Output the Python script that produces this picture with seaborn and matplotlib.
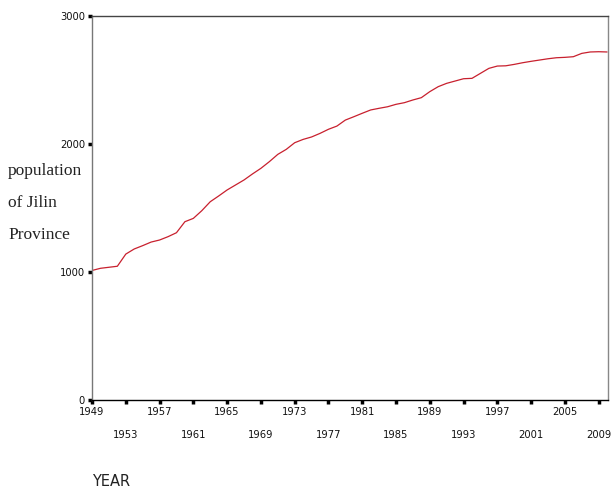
import matplotlib
matplotlib.use("Agg")
import matplotlib.pyplot as plt
import numpy as np
import pandas as pd
import seaborn as sns

# population of Jilin Province (10k persons)
years = list(range(1949, 2011))
population = [
    1012, 1029, 1037, 1045, 1140, 1180, 1206, 1234, 1250, 1276,
    1307, 1393, 1419, 1479, 1549, 1594, 1641, 1680, 1719, 1766,
    1810, 1862, 1919, 1958, 2010, 2036, 2055, 2083, 2115, 2140,
    2187, 2213, 2240, 2266, 2279, 2291, 2310, 2323, 2344, 2362,
    2409, 2448, 2474, 2492, 2510, 2513, 2552, 2591, 2609, 2611,
    2622, 2635, 2646, 2656, 2666, 2674, 2677, 2682, 2708, 2719,
    2721, 2719,
]
tick_years = list(range(1949, 2010, 4))
y_ticks = [0, 1000, 2000, 3000]

df = pd.DataFrame({"year": years, "population": population})

sns.set_style("white")
plt.rcParams["font.family"] = ["DejaVu Sans"]

fig = plt.figure(figsize=(6.11, 4.88), dpi=100)
ax = fig.add_axes([0.1506, 0.1803, 0.8444, 0.7869])

sns.lineplot(data=df, x="year", y="population", ax=ax, color="#c8202e", linewidth=0.9)

ax.set_xlim(1949, 2010.1)
ax.set_ylim(0, 3000)

ax.set_xticks(tick_years)
ax.set_xticklabels([str(y) if i % 2 == 0 else "\n" + str(y) for i, y in enumerate(tick_years)],
                   fontsize=7.2, linespacing=2.6, color="#111111")
ax.set_yticks(y_ticks)
ax.set_yticklabels([str(v) for v in y_ticks], fontsize=7.2, color="#111111")
ax.tick_params(axis="both", which="major", bottom=True, left=True, direction="out",
               length=3, width=2.5, color="black", pad=2)

for name, sp in ax.spines.items():
    sp.set_visible(True)
    sp.set_linewidth(1)
ax.spines["left"].set_color("#777777")
ax.spines["right"].set_color("#888888")
ax.spines["top"].set_color("#444444")
ax.spines["bottom"].set_color("black")

ax.set_xlabel("")
ax.set_ylabel("")

fig.text(8 / 611, 1 - 203 / 488, "population\nof Jilin\nProvince", ha="left", va="center",
         fontsize=12.5, family=["Liberation Serif"], linespacing=2.3, color="#222222")
fig.text(92 / 611, 1 - 481 / 488, "YEAR", ha="left", va="center", fontsize=10.5, color="#222222")

fig.savefig("out.png", dpi=100)
